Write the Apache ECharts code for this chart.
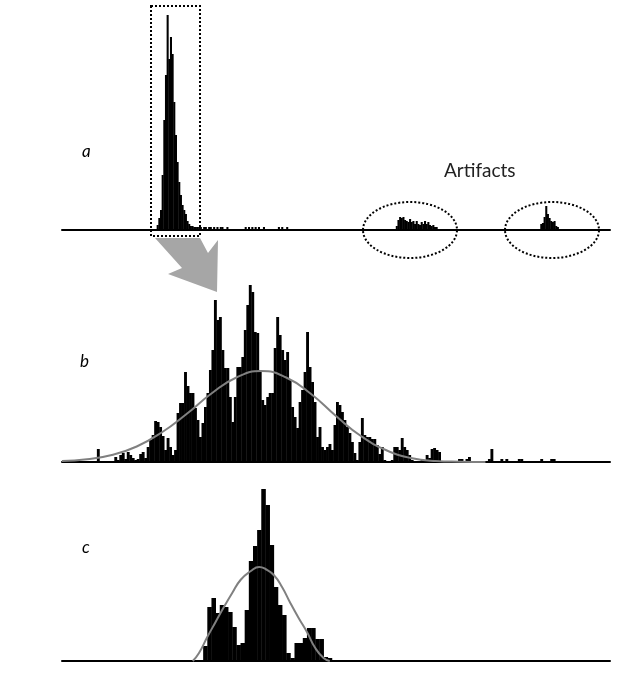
<!DOCTYPE html>
<html><head><meta charset="utf-8">
<script src="https://cdn.jsdelivr.net/npm/echarts@6/dist/echarts.min.js"></script>
<style>html,body{margin:0;padding:0;background:#fff}#c{width:626px;height:682px}</style>
</head><body><div id="c"></div>
<script>
// ---------- DATA ----------
// Panel a (raw spectrum): bin index -> height
var aPeakStart = 57;
var aPeak = [5,12,20,55,110,155,215,171,193,176,128,95,68,48,35,25,20,16,9,6,4,4,3,3,3,3,3];
var aSparseX = [85,86,88,89,91,93,95,96,99,110,112,114,116,118,121,130,132,135];
var aSparseH = [3,3,3,3,3,3,3,3,3,3,3,3,3,3,3,3,3,3];
var art1Start = 201;
var art1 = [4,10,13,12,13,10,9,8,11,8,9,6,9,6,5,8,6,9,6,8,5,4,5,3,3];
var art2Start = 288;
var art2 = [6,7,13,24,16,12,9,8,9,4,3];

// Panel b (zoomed peak)
var bStart = 13;
var bVals = [
0,13,1,1,0,1,1,1,5,2,
7,9,3,10,7,4,2,3,8,10,
4,15,22,27,41,40,35,26,12,24,
15,7,12,49,59,59,90,76,69,69,
54,42,25,39,55,69,92,112,162,142,
145,112,94,94,65,40,65,95,95,105,
132,157,177,170,130,129,92,62,57,65,
69,69,114,145,127,112,102,110,82,55,
45,34,60,72,90,130,95,80,60,25,
35,15,12,15,18,12,37,60,57,50,
42,35,29,20,9,2,20,44,27,25,
25,23,23,17,8,15,2,1,0,2,
15,15,12,24,15,12,7,2,1,1,
1,2,2,7,4,13,14,12,10,1,
1,1,1,1,1,0,3,3,0,3,
5,0,0,0,0,0,0,0,3,13,
0,0,0,3,0,3,0,0,0,0,
3,3,0,0,0,0,0,0,0,3,
0,0,0,3,3];
var bFit = [[0,1],[10,2.8],[20,7],[30,15.5],[40,29.5],[50,48],[60,68.5],[70,84.5],[80,91],[90,84.5],[100,68],[110,46],[120,26],[130,12],[140,4],[150,1],[160,0.3],[170,0]];

// Panel c (processed)
var cStart = 34;
var cVals = [15,54,63,48,56,54,49,34,16,18,51,100,115,131,172,156,116,74,56,46,8,3,18,18,23,33,33,22,22,4,3];
var cFit = [[31.5,0],[33,8],[35,24],[37,39],[39,54],[41,68],[43,81],[45.5,90],[47.5,94],[49,92],[51,86],[53,74],[55,58],[57,43],[59,29],[61,13],[63,3],[64.5,0]];

// Texts
var panelLabels = ['a','b','c'];
var annotationText = 'Artifacts';

// ---------- BUILD ----------
function pairs(start, vals){ return vals.map(function(v,i){return [start+i, v];}); }
function sparse(xs, hs){ return xs.map(function(x,i){return [x, hs[i]];}); }

var aData = pairs(aPeakStart,aPeak).concat(sparse(aSparseX,aSparseH)).concat(pairs(art1Start,art1)).concat(pairs(art2Start,art2));
var bData = pairs(bStart,bVals).filter(function(d){return d[1]>0;});
var cData = pairs(cStart,cVals);

function renderBar(params, api){
  var x = api.value(0), h = api.value(1);
  var p0 = api.coord([x,0]), p1 = api.coord([x+1,h]);
  return {type:'rect', shape:{x:p0[0], y:p1[1], width:(p1[0]-p0[0])+0.4, height:p0[1]-p1[1]}, style:{fill:'#000'}};
}

var grids = [
  {left:62, width:548, top:10, height:220},
  {left:62, width:548, top:280, height:182},
  {left:62, width:548, top:485, height:176}
];
var xMax = [330, 220, 132];
var yMax = [220, 182, 176];

var xAxes = grids.map(function(g,i){return {type:'value', gridIndex:i, min:0, max:xMax[i],
  axisLine:{show:true, onZero:true, lineStyle:{color:'#000', width:2}}, axisTick:{show:false}, axisLabel:{show:false}, splitLine:{show:false}};});
var yAxes = grids.map(function(g,i){return {type:'value', gridIndex:i, min:0, max:yMax[i], show:false, splitLine:{show:false}};});

var series = [
  {type:'custom', xAxisIndex:0, yAxisIndex:0, renderItem:renderBar, data:aData, silent:true},
  {type:'custom', xAxisIndex:1, yAxisIndex:1, renderItem:renderBar, data:bData, silent:true},
  {type:'line', xAxisIndex:1, yAxisIndex:1, data:bFit, smooth:true, showSymbol:false, lineStyle:{color:'#808080', width:2}, z:5},
  {type:'custom', xAxisIndex:2, yAxisIndex:2, renderItem:renderBar, data:cData, silent:true},
  {type:'line', xAxisIndex:2, yAxisIndex:2, data:cFit, smooth:true, showSymbol:false, lineStyle:{color:'#808080', width:2}, z:5}
];

var labelFont = {fontFamily:'Lato', fontSize:17, fontStyle:'italic', fill:'#000'};
var graphic = [
  {type:'text', left:82, top:143, style:Object.assign({text:panelLabels[0]}, labelFont)},
  {type:'text', left:80, top:353, style:Object.assign({text:panelLabels[1]}, labelFont)},
  {type:'text', left:82, top:539, style:Object.assign({text:panelLabels[2]}, labelFont)},
  {type:'text', left:444, top:161, style:{text:annotationText, fontFamily:'Lato', fontSize:19, fill:'#222'}},
  {type:'polygon', shape:{points:[[155,238],[200,238],[208,253],[218,240],[217,292],[168,274],[182,268]]}, style:{fill:'#a6a6a6'}, z:1},
  {type:'rect', shape:{x:151, y:6, width:49, height:230}, style:{fill:null, stroke:'#000', lineWidth:2, lineDash:[2,2]}, z:10},
  {type:'ellipse', shape:{cx:410, cy:230, rx:47, ry:28}, style:{fill:null, stroke:'#000', lineWidth:2, lineDash:[2,2]}, z:10},
  {type:'ellipse', shape:{cx:552, cy:230, rx:47, ry:28}, style:{fill:null, stroke:'#000', lineWidth:2, lineDash:[2,2]}, z:10}
];

var chart = echarts.init(document.getElementById('c'), null, {renderer:'canvas'});
chart.setOption({animation:false, backgroundColor:'#fff', grid:grids, xAxis:xAxes, yAxis:yAxes, series:series, graphic:graphic});
</script></body></html>
